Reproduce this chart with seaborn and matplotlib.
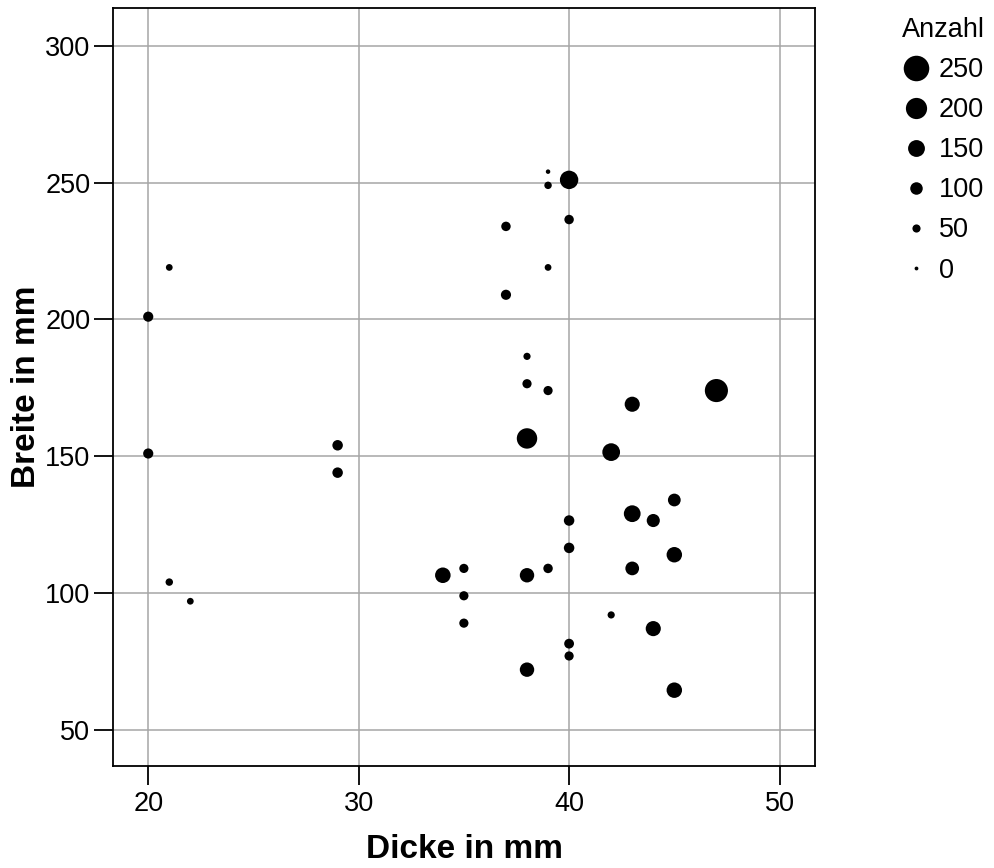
import matplotlib
matplotlib.use("Agg")
import matplotlib.pyplot as plt
from matplotlib.lines import Line2D
import seaborn as sns
import pandas as pd

# ---- data ----
dicke = [20, 20, 21, 21, 22, 29, 29, 34, 35, 35, 35, 37, 37, 38, 38, 38, 38, 38,
         39, 39, 39, 39, 39, 40, 40, 40, 40, 40, 40, 42, 42, 43, 43, 43, 44, 44,
         45, 45, 45, 47]
breite = [201, 151, 219, 104, 97, 154, 144, 106.5, 109, 99, 89, 234, 209, 186.5,
          176.5, 156.5, 106.5, 72, 254, 249, 219, 174, 109, 251, 236.5, 126.5,
          116.5, 81.5, 77, 151.5, 92, 169, 129, 109, 126.5, 87, 134, 114, 64.5, 174]
anzahl = [73, 73, 34, 42, 34, 77, 77, 135, 62, 62, 62, 65, 73, 39,
          62, 191, 122, 122, 8, 42, 34, 62, 65, 168, 65, 77,
          77, 69, 62, 160, 39, 130, 149, 114, 107, 130, 103, 134, 134, 222]

legend_levels = [250, 200, 150, 100, 50, 0]
x_ticks = [20, 30, 40, 50]
y_ticks = [50, 100, 150, 200, 250, 300]

df = pd.DataFrame({"Dicke": dicke, "Breite": breite, "Anzahl": anzahl})

sns.set_style("white")
plt.rcParams["font.family"] = ["Liberation Sans", "DejaVu Sans"]
plt.rcParams["text.color"] = "black"
plt.rcParams["axes.labelcolor"] = "black"

W, H = 994, 868
fig = plt.figure(figsize=(W / 100, H / 100), dpi=100)
L, R, T, B = 113.3, 815.3, 8.3, 765.7
ax = fig.add_axes([L / W, 1 - B / H, (R - L) / W, (B - T) / H])


def diam_px(v):
    return 3.8 + 0.087 * v


def area_pt2(v):
    return (0.72 * diam_px(v)) ** 2


size_map = {v: area_pt2(v) for v in sorted(set(anzahl))}

sns.scatterplot(data=df, x="Dicke", y="Breite", size="Anzahl", sizes=size_map,
                color="black", linewidth=0, legend=False, ax=ax, zorder=3)

ax.set_xlim(18.34, 51.7)
ax.set_ylim(36.9, 313.7)
ax.set_xticks(x_ticks)
ax.set_yticks(y_ticks)
ax.grid(True, color="#a6a6a6", linewidth=1.1)
ax.set_axisbelow(True)
for s in ax.spines.values():
    s.set_color("black")
    s.set_linewidth(1.3)
ax.tick_params(axis="both", which="major", bottom=True, left=True,
               direction="out", length=13.5, width=1.3,
               color="black", labelsize=19.5, labelcolor="black")
ax.tick_params(axis="x", pad=5)
ax.tick_params(axis="y", pad=3)

ax.set_xlabel("Dicke in mm", fontsize=24, fontweight="bold", labelpad=12,
              color="black")
ax.set_ylabel("Breite in mm", fontsize=24, fontweight="bold", labelpad=2,
              color="black")

handles = [Line2D([0], [0], marker="o", linestyle="none", color="black",
                  markeredgewidth=0, markersize=0.72 * diam_px(v))
           for v in legend_levels]
leg = fig.legend(handles, [str(v) for v in legend_levels], title="Anzahl",
                 loc="upper left", bbox_to_anchor=(902 / W, 1 - 17 / H),
                 frameon=False, fontsize=19.5, title_fontsize=19.5,
                 handlelength=1.0, handletextpad=0.35, labelspacing=0.52,
                 borderpad=0, borderaxespad=0, alignment="left")
for t in leg.get_texts():
    t.set_color("black")
leg.get_title().set_color("black")

fig.savefig("out.png", dpi=100)
